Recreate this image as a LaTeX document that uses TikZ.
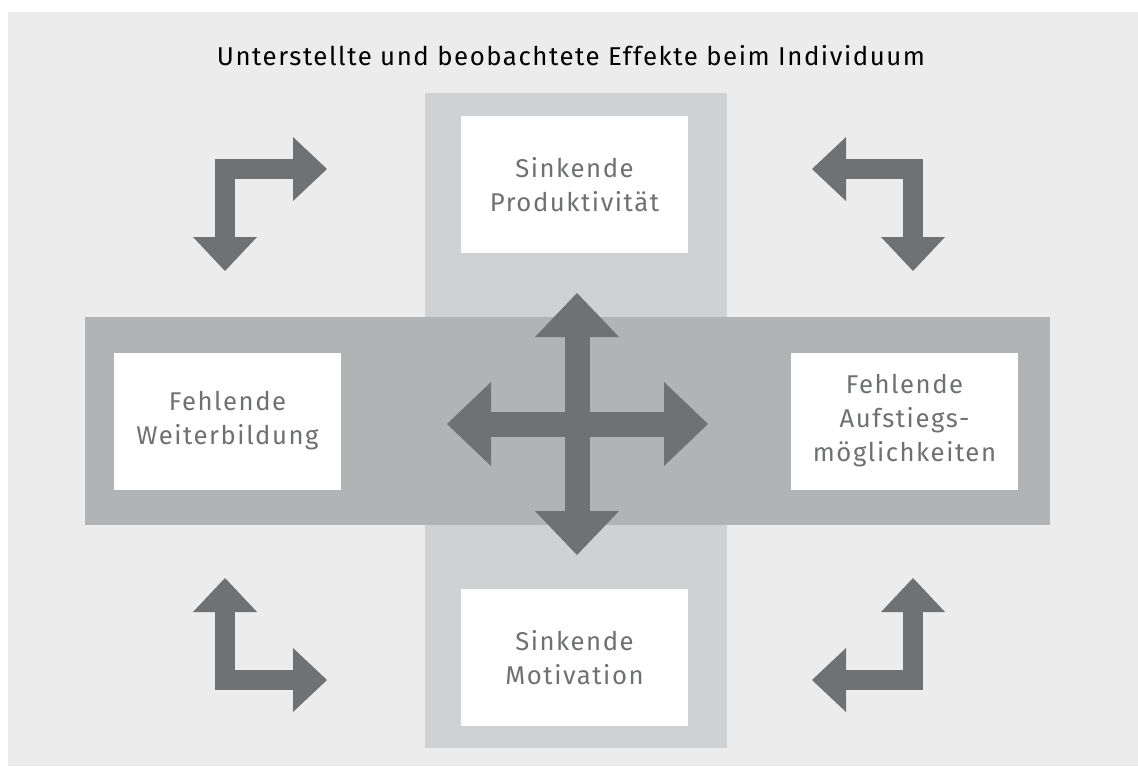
\documentclass[tikz,border=0pt]{standalone}
\usepackage{fontspec}
\setmainfont[LetterSpace=6]{Fira Sans}
\usetikzlibrary{arrows.meta}

\definecolor{panelGrey}{HTML}{EBECEB}
\definecolor{bandLight}{HTML}{D0D1D3}
\definecolor{bandDark}{HTML}{B2B3B5}
\definecolor{arrowGrey}{HTML}{707173}
\definecolor{textGrey}{HTML}{6F7072}

\tikzset{
	effectBox/.style={fill=white, minimum width=227pt, minimum height=137pt, inner sep=0pt,
		align=center, text=textGrey, font=\fontsize{25.7}{34}\selectfont},
	crossArrow/.style={draw=arrowGrey, line width=25pt,
		{Triangle[length=44pt, width=84pt, line width=0pt]}-{Triangle[length=44pt, width=84pt, line width=0pt]}},
	cornerArrow/.style={draw=arrowGrey, line width=20pt, line join=miter,
		{Triangle[length=34pt, width=64pt, line width=0pt]}-{Triangle[length=34pt, width=64pt, line width=0pt]}}
}

\begin{document}
\begin{tikzpicture}[x=1pt, y=-1pt]

% Define coordinates.

	%frame
	\useasboundingbox (0,0) rectangle (1138,766);
	\coordinate (panelNW) at (8,12);
	\coordinate (panelSE) at (1138,766);

	%cross arrow
	\coordinate (crossN) at (577,293);
	\coordinate (crossS) at (577,555);
	\coordinate (crossW) at (447,424);
	\coordinate (crossE) at (708,424);

	%top left arrow
	\coordinate (tlTip1) at (225,271);
	\coordinate (tlBend) at (225,169);
	\coordinate (tlTip2) at (327,169);

	%top right arrow
	\coordinate (trTip1) at (812,169);
	\coordinate (trBend) at (913,169);
	\coordinate (trTip2) at (913,271);

	%bottom left arrow
	\coordinate (blTip1) at (225,578);
	\coordinate (blBend) at (225,680);
	\coordinate (blTip2) at (327,680);

	%bottom right arrow
	\coordinate (brTip1) at (913,578);
	\coordinate (brBend) at (913,680);
	\coordinate (brTip2) at (812,680);

% Colour in.

	\fill[white] (0,0) rectangle (1138,766);
	\fill[panelGrey] (panelNW) rectangle (panelSE);
	\fill[bandLight] (425,93) rectangle (727,748);
	\fill[bandDark] (85,317) rectangle (1050,525);

% Draw title.

	\node[anchor=base, font=\fontsize{25.8}{30}\selectfont] (title) at (571,65)
		{Unterstellte und beobachtete Effekte beim Individuum};

% Draw boxes.

	\node[effectBox] (produktivitaet) at (574.5,184.5) {Sinkende\\Produktivität};
	\node[effectBox] (motivation) at (574.5,657.5) {Sinkende\\Motivation};
	\node[effectBox] (weiterbildung) at (227.5,421) {Fehlende\\Weiterbildung};
	\node[effectBox] (aufstieg) at (904.5,421) {Fehlende\\Aufstiegs-\\möglichkeiten};

% Draw arrows.

	\draw[crossArrow] (crossN) -- (crossS);
	\draw[crossArrow] (crossW) -- (crossE);

	\draw[cornerArrow] (tlTip1) -- (tlBend) -- (tlTip2);
	\draw[cornerArrow] (trTip1) -- (trBend) -- (trTip2);
	\draw[cornerArrow] (blTip1) -- (blBend) -- (blTip2);
	\draw[cornerArrow] (brTip1) -- (brBend) -- (brTip2);

\end{tikzpicture}
\end{document}
